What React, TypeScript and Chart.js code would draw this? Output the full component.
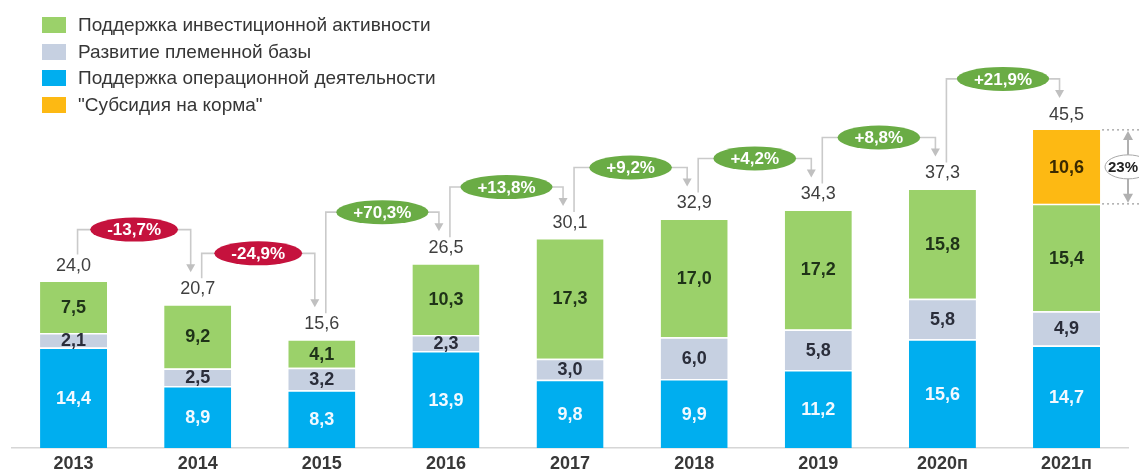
import React, { useEffect, useRef } from "react";
import { Chart, registerables } from "chart.js";

Chart.register(...registerables);

const categories = ["2013", "2014", "2015", "2016", "2017", "2018", "2019", "2020п", "2021п"];
const operational = [14.4, 8.9, 8.3, 13.9, 9.8, 9.9, 11.2, 15.6, 14.7];
const breeding = [2.1, 2.5, 3.2, 2.3, 3.0, 6.0, 5.8, 5.8, 4.9];
const investment = [7.5, 9.2, 4.1, 10.3, 17.3, 17.0, 17.2, 15.8, 15.4];
const feedSubsidy = [null, null, null, null, null, null, null, null, 10.6];
const totals = [24.0, 20.7, 15.6, 26.5, 30.1, 32.9, 34.3, 37.3, 45.5];
const changes = ["-13,7%", "-24,9%", "+70,3%", "+13,8%", "+9,2%", "+4,2%", "+8,8%", "+21,9%"];
const feedShare = "23%";

const legendNames = [
  "Поддержка инвестиционной активности",
  "Развитие племенной базы",
  "Поддержка операционной деятельности",
  "\"Субсидия на корма\"",
];

const C_GREEN = "#9bd16a";
const C_GRAY = "#c6d0e1";
const C_BLUE = "#00aeef";
const C_ORANGE = "#fdb913";
const C_POS = "#6aac45";
const C_NEG = "#c5123d";
const FONT = "'Liberation Sans', Arial, sans-serif";

const fmt = (v: number) => v.toFixed(1).replace(".", ",");

const annotations = {
  id: "annotations",
  afterDatasetsDraw(chart: any) {
    const ctx = chart.ctx;
    const n = categories.length;
    ctx.save();

    // segment labels
    const labelColors = ["#f2f9ff", "#2a2d3a", "#1f3318", "#3a2a00"];
    chart.data.datasets.forEach((ds: any, di: number) => {
      const meta = chart.getDatasetMeta(di);
      meta.data.forEach((el: any, i: number) => {
        const v = ds.data[i];
        if (v === null || v === undefined) return;
        ctx.font = `bold 18px ${FONT}`;
        ctx.fillStyle = labelColors[di];
        ctx.textAlign = "center";
        ctx.textBaseline = "middle";
        ctx.fillText(fmt(v), el.x, (el.y + el.base) / 2 + 1);
      });
    });

    // tops
    const tops: number[] = [];
    const xs: number[] = [];
    for (let i = 0; i < n; i++) {
      let top = Infinity;
      let x = 0;
      chart.data.datasets.forEach((ds: any, di: number) => {
        const el = chart.getDatasetMeta(di).data[i];
        if (ds.data[i] === null || ds.data[i] === undefined) return;
        if (el.y < top) top = el.y;
        x = el.x;
      });
      tops.push(top);
      xs.push(x);
    }

    // totals
    ctx.font = `18px ${FONT}`;
    ctx.fillStyle = "#3f3f3f";
    ctx.textAlign = "center";
    ctx.textBaseline = "middle";
    for (let i = 0; i < n; i++) {
      ctx.fillText(fmt(totals[i]), xs[i], tops[i] - 15);
    }

    // connectors with bubbles
    for (let i = 0; i < n - 1; i++) {
      const sx = xs[i] + 4;
      const sy = tops[i] - 26;
      const ex = xs[i + 1] - 7;
      const ey = tops[i + 1] - 32;
      const hy = Math.min(tops[i], tops[i + 1]) - 51;
      ctx.strokeStyle = "#cacaca";
      ctx.lineWidth = 1.6;
      ctx.setLineDash([]);
      ctx.beginPath();
      ctx.moveTo(sx, sy);
      ctx.lineTo(sx, hy);
      ctx.lineTo(ex, hy);
      ctx.lineTo(ex, ey - 7);
      ctx.stroke();
      ctx.fillStyle = "#c0c0c0";
      ctx.beginPath();
      ctx.moveTo(ex - 4.5, ey - 8);
      ctx.lineTo(ex + 4.5, ey - 8);
      ctx.lineTo(ex, ey);
      ctx.closePath();
      ctx.fill();

      const txt = changes[i];
      ctx.font = `bold 17px ${FONT}`;
      const tw = ctx.measureText(txt).width;
      const cx = (sx + ex) / 2;
      const w = tw + 34;
      const h = 24;
      ctx.fillStyle = txt.startsWith("-") ? C_NEG : C_POS;
      ctx.beginPath();
      ctx.ellipse(cx, hy, w / 2, h / 2, 0, 0, Math.PI * 2);
      ctx.fill();
      ctx.fillStyle = "#ffffff";
      ctx.textAlign = "center";
      ctx.textBaseline = "middle";
      ctx.fillText(txt, cx, hy + 1);
    }

    // 23% share annotation on last bar
    const last = n - 1;
    const oMeta = chart.getDatasetMeta(3).data[last];
    if (oMeta) {
      const topY = oMeta.y;
      const botY = oMeta.base;
      const right = oMeta.x + oMeta.width / 2;
      ctx.strokeStyle = "#9a9a9a";
      ctx.lineWidth = 1.2;
      ctx.setLineDash([2, 3]);
      ctx.beginPath();
      ctx.moveTo(right + 2, topY);
      ctx.lineTo(chart.width, topY);
      ctx.moveTo(right + 2, botY);
      ctx.lineTo(chart.width, botY);
      ctx.stroke();
      ctx.setLineDash([]);
      const ax = 1128;
      ctx.strokeStyle = "#b0b0b0";
      ctx.lineWidth = 2;
      ctx.beginPath();
      ctx.moveTo(ax, topY + 8);
      ctx.lineTo(ax, botY - 8);
      ctx.stroke();
      ctx.fillStyle = "#b0b0b0";
      ctx.beginPath();
      ctx.moveTo(ax, topY + 1);
      ctx.lineTo(ax - 5, topY + 10);
      ctx.lineTo(ax + 5, topY + 10);
      ctx.closePath();
      ctx.fill();
      ctx.beginPath();
      ctx.moveTo(ax, botY - 1);
      ctx.lineTo(ax - 5, botY - 10);
      ctx.lineTo(ax + 5, botY - 10);
      ctx.closePath();
      ctx.fill();
      const my = (topY + botY) / 2;
      ctx.fillStyle = "#ffffff";
      ctx.strokeStyle = "#a8a8a8";
      ctx.lineWidth = 1;
      ctx.beginPath();
      ctx.ellipse(1128, my, 23, 12, 0, 0, Math.PI * 2);
      ctx.fill();
      ctx.stroke();
      ctx.font = `bold 15px ${FONT}`;
      ctx.fillStyle = "#222222";
      ctx.textAlign = "left";
      ctx.textBaseline = "middle";
      ctx.fillText(feedShare, 1108, my + 1);
    }

    // legend
    const legendColors = [C_GREEN, C_GRAY, C_BLUE, C_ORANGE];
    const rows = [25, 52, 78, 105];
    ctx.font = `19px ${FONT}`;
    ctx.textAlign = "left";
    ctx.textBaseline = "middle";
    legendNames.forEach((name, k) => {
      ctx.fillStyle = legendColors[k];
      ctx.fillRect(42, rows[k] - 8, 24, 16);
      ctx.fillStyle = "#363636";
      ctx.fillText(name, 78, rows[k] + 1);
    });

    ctx.restore();
  },
};

export default function App() {
  const ref = useRef<HTMLCanvasElement | null>(null);

  useEffect(() => {
    if (!ref.current) return;
    const sep = { top: 1.5, bottom: 0, left: 0, right: 0 };
    const chart = new Chart(ref.current, {
      type: "bar",
      data: {
        labels: categories,
        datasets: [
          { label: legendNames[2], data: operational, backgroundColor: C_BLUE, borderColor: "#ffffff", borderWidth: sep, borderSkipped: false },
          { label: legendNames[1], data: breeding, backgroundColor: C_GRAY, borderColor: "#ffffff", borderWidth: sep, borderSkipped: false },
          { label: legendNames[0], data: investment, backgroundColor: C_GREEN, borderColor: "#ffffff", borderWidth: sep, borderSkipped: false },
          { label: legendNames[3], data: feedSubsidy, backgroundColor: C_ORANGE, borderColor: "#ffffff", borderWidth: 0 },
        ],
      },
      options: {
        responsive: false,
        animation: false,
        devicePixelRatio: 1,
        layout: { padding: { left: 11.5, right: 10.4, top: 29.4, bottom: -7.7 } },
        plugins: { legend: { display: false }, tooltip: { enabled: false } },
        datasets: { bar: { categoryPercentage: 1, barPercentage: 0.54 } },
        scales: {
          x: {
            stacked: true,
            grid: { display: false, drawTicks: false },
            border: { display: true, color: "#d6d6d6", width: 1.5 },
            ticks: { color: "#383838", font: { family: FONT, size: 18, weight: "bold" }, padding: 5.5 },
          },
          y: { stacked: true, display: false, min: 0, max: 60 },
        },
      },
      plugins: [annotations],
    } as any);
    return () => chart.destroy();
  }, []);

  return (
    <div style={{ position: "absolute", left: 0, top: 0, width: 1139, height: 473, background: "#ffffff" }}>
      <canvas ref={ref} width={1139} height={473} style={{ display: "block" }} />
    </div>
  );
}
